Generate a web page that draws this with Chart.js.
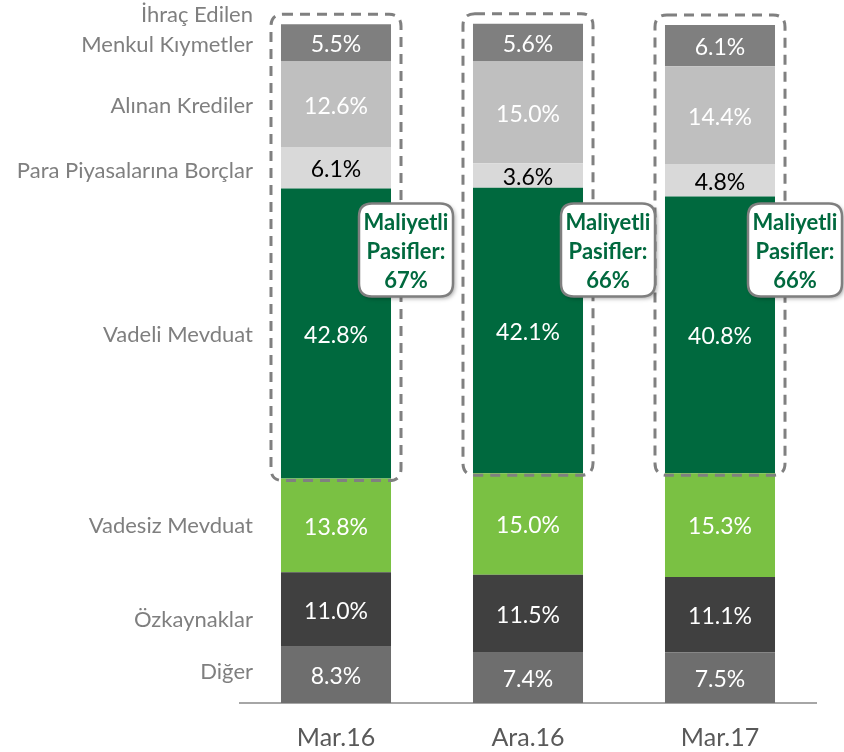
<!DOCTYPE html>
<html>
<head>
<meta charset="utf-8">
<script src="https://cdn.jsdelivr.net/npm/chart.js@4.4.1/dist/chart.umd.min.js"></script>
<style>
html,body{margin:0;padding:0;background:#fff;}
#wrap{width:844px;height:752px;position:relative;}
</style>
</head>
<body>
<div id="wrap"><canvas id="c" width="844" height="752"></canvas></div>
<script>
// ---- data ----
const periods = ["Mar.16", "Ara.16", "Mar.17"];
const seriesNames = ["Diğer", "Özkaynaklar", "Vadesiz Mevduat", "Vadeli Mevduat", "Para Piyasalarına Borçlar", "Alınan Krediler", "İhraç Edilen\nMenkul Kıymetler"];
const diger       = [8.3, 7.4, 7.5];
const ozkaynaklar = [11.0, 11.5, 11.1];
const vadesiz     = [13.8, 15.0, 15.3];
const vadeli      = [42.8, 42.1, 40.8];
const paraPiyasa  = [6.1, 3.6, 4.8];
const alinanKredi = [12.6, 15.0, 14.4];
const ihrac       = [5.5, 5.6, 6.1];
const maliyetliPasifler = [67, 66, 66];

const FONT = "Lato, 'Open Sans', sans-serif";
const colors = ["#6e6e6e", "#404040", "#7ac143", "#00693e", "#d9d9d9", "#bfbfbf", "#7f7f7f"];
const labelColors = ["#ffffff", "#ffffff", "#ffffff", "#ffffff", "#000000", "#ffffff", "#ffffff"];
const seriesValues = [diger, ozkaynaklar, vadesiz, vadeli, paraPiyasa, alinanKredi, ihrac];

const datasets = seriesValues.map((vals, i) => ({
  label: seriesNames[i],
  data: vals,
  backgroundColor: colors[i],
  borderWidth: 0,
  clip: false,
  categoryPercentage: 0.573,
  barPercentage: 1.0
}));

const valueLabels = {
  id: 'valueLabels',
  afterDatasetsDraw(chart) {
    const ctx = chart.ctx;
    ctx.save();
    ctx.font = "23px " + FONT;
    ctx.textAlign = 'center';
    ctx.textBaseline = 'middle';
    chart.data.datasets.forEach((ds, di) => {
      const meta = chart.getDatasetMeta(di);
      meta.data.forEach((el, i) => {
        ctx.fillStyle = labelColors[di];
        const y = (el.y + el.base) / 2 + 2;
        ctx.fillText(ds.data[i].toFixed(1) + "%", el.x, y);
      });
    });
    ctx.restore();
  }
};

const seriesAxisLabels = {
  id: 'seriesAxisLabels',
  afterDraw(chart, args, opts) {
    const ctx = chart.ctx;
    const meta0 = chart.data.datasets.map((d, di) => chart.getDatasetMeta(di).data[0]);
    ctx.save();
    ctx.font = "22px " + FONT;
    ctx.fillStyle = "#7f7f7f";
    ctx.textAlign = 'right';
    ctx.textBaseline = 'middle';
    const xRight = chart.chartArea.left + opts.xOffset;
    chart.data.datasets.forEach((ds, di) => {
      const el = meta0[di];
      const lines = ds.label.split("\n");
      let yc = (el.y + el.base) / 2 + (opts.nudge[di] || 0);
      const lh = 30;
      const startY = yc - (lines.length - 1) * lh;
      lines.forEach((ln, k) => ctx.fillText(ln, xRight, startY + k * lh));
    });
    ctx.restore();
  }
};

function roundRect(ctx, x, y, w, h, r) {
  ctx.beginPath();
  ctx.moveTo(x + r, y);
  ctx.lineTo(x + w - r, y);
  ctx.quadraticCurveTo(x + w, y, x + w, y + r);
  ctx.lineTo(x + w, y + h - r);
  ctx.quadraticCurveTo(x + w, y + h, x + w - r, y + h);
  ctx.lineTo(x + r, y + h);
  ctx.quadraticCurveTo(x, y + h, x, y + h - r);
  ctx.lineTo(x, y + r);
  ctx.quadraticCurveTo(x, y, x + r, y);
  ctx.closePath();
}

const costlyBoxes = {
  id: 'costlyBoxes',
  afterDraw(chart, args, opts) {
    const ctx = chart.ctx;
    const n = chart.data.labels.length;
    const topIdx = chart.data.datasets.length - 1;
    const vadeliIdx = 3;
    for (let i = 0; i < n; i++) {
      const topEl = chart.getDatasetMeta(topIdx).data[i];
      const vEl = chart.getDatasetMeta(vadeliIdx).data[i];
      const half = topEl.width / 2;
      const x0 = topEl.x - half - 10, x1 = topEl.x + half + 10;
      const y0 = topEl.y - 10, y1 = vEl.base + 2;
      ctx.save();
      ctx.strokeStyle = "#808080";
      ctx.lineWidth = 3;
      ctx.setLineDash([10, 7]);
      roundRect(ctx, x0, y0, x1 - x0, y1 - y0, 12);
      ctx.stroke();
      ctx.restore();
    }
    // callouts
    for (let i = 0; i < n; i++) {
      const topEl = chart.getDatasetMeta(topIdx).data[i];
      const cx = topEl.x + opts.xOffsets[i];
      const cy = chart.scales.y.getPixelForValue(opts.yValue);
      const w = 94, h = 93;
      ctx.save();
      ctx.shadowColor = "rgba(0,0,0,0.35)";
      ctx.shadowBlur = 4;
      ctx.shadowOffsetX = 2;
      ctx.shadowOffsetY = 2;
      ctx.fillStyle = "#ffffff";
      roundRect(ctx, cx - w / 2, cy - h / 2, w, h, 13);
      ctx.fill();
      ctx.restore();
      ctx.save();
      ctx.strokeStyle = "#7f7f7f";
      ctx.lineWidth = 2.5;
      roundRect(ctx, cx - w / 2, cy - h / 2, w, h, 13);
      ctx.stroke();
      ctx.fillStyle = "#00693e";
      ctx.font = "bold 22px " + FONT;
      ctx.textAlign = 'center';
      ctx.textBaseline = 'middle';
      ctx.fillText("Maliyetli", cx, cy - 27);
      ctx.fillText("Pasifler:", cx, cy + 2);
      ctx.fillText(maliyetliPasifler[i] + "%", cx, cy + 31);
      ctx.restore();
    }
  }
};

new Chart(document.getElementById('c'), {
  type: 'bar',
  data: { labels: periods, datasets: datasets },
  plugins: [valueLabels, seriesAxisLabels, costlyBoxes],
  options: {
    responsive: false,
    animation: false,
    events: [],
    layout: { padding: { left: 240, right: 28, top: 25, bottom: 0 } },
    plugins: {
      legend: { display: false },
      tooltip: { enabled: false },
      seriesAxisLabels: { xOffset: 13, nudge: [-3, 10, 1, 1, 3, 2, 2] },
      costlyBoxes: { xOffsets: [70, 80, 75], yValue: 66.8 }
    },
    scales: {
      x: {
        stacked: true,
        grid: { display: true, color: 'transparent', drawTicks: false },
        border: { display: true, color: '#a6a6a6', width: 2 },
        ticks: { color: '#595959', font: { family: FONT, size: 25 }, padding: 20 },
        afterFit(scale) { scale.height = 49; }
      },
      y: {
        stacked: true,
        display: false,
        min: 0,
        max: 100
      }
    }
  }
});
</script>
</body>
</html>
